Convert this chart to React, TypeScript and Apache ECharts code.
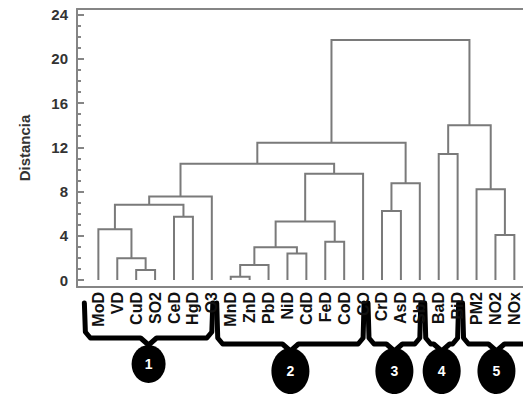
import React, { useEffect, useRef } from "react";
import * as echarts from "echarts";

// Leaves of the dendrogram (left to right)
const leafLabels = [
  "MoD", "VD", "CuD", "SO2", "CeD", "HgD", "O3",
  "MnD", "ZnD", "PbD", "NiD", "CdD", "FeD", "CoD", "CO",
  "CrD", "AsD", "SbD",
  "BaD", "BiD",
  "PM2", "NO2", "NOx",
];

// Linkage: node ids 0..22 are leaves, each merge k creates node 23 + k
const mergeLeft = [7, 2, 23, 1, 10, 25, 12, 21, 0, 28, 4, 15, 31, 35, 20, 34, 32, 36, 18, 40, 41, 42];
const mergeRight = [8, 3, 9, 24, 11, 27, 13, 22, 26, 29, 5, 16, 33, 6, 30, 17, 14, 39, 19, 38, 37, 43];
const mergeHeight = [0.3, 0.9, 1.36, 1.96, 2.4, 2.96, 3.47, 4.07, 4.6, 5.28, 5.73, 6.24, 6.8, 7.54, 8.2, 8.75, 9.6, 10.5, 11.4, 12.4, 14.0, 21.7];

const yMajorTicks = [0, 4, 8, 12, 16, 20, 24];
const yMinorTicks = [0, 1, 2, 3, 4, 5, 6, 7, 8, 9, 10, 11, 12, 13, 14, 15, 16, 17, 18, 19, 20, 21, 22, 23, 24];

// Cluster groups marked under the labels
const groupNames = ["1", "2", "3", "4", "5"];
const groupFirstLeaf = [0, 7, 15, 18, 20];
const groupLastLeaf = [6, 14, 17, 19, 22];

function buildLinks() {
  const nodeX: number[] = leafLabels.map((_, i) => i);
  const nodeH: number[] = leafLabels.map(() => 0);
  const links: any[] = [];
  for (let k = 0; k < mergeHeight.length; k++) {
    const l = mergeLeft[k];
    const r = mergeRight[k];
    const h = mergeHeight[k];
    links.push({
      coords: [
        [nodeX[l], nodeH[l]],
        [nodeX[l], h],
        [nodeX[r], h],
        [nodeX[r], nodeH[r]],
      ],
    });
    nodeX.push((nodeX[l] + nodeX[r]) / 2);
    nodeH.push(h);
  }
  return links;
}

const AXIS_COLOR = "#858585";
const LINK_COLOR = "#7a7a7a";
const FONT = "Liberation Sans, Arial, sans-serif";

export default function App() {
  const ref = useRef<HTMLDivElement>(null);

  useEffect(() => {
    if (!ref.current) return;
    const chart = echarts.init(ref.current, undefined, { renderer: "svg" });
    const leafIdx = leafLabels.map((_, i) => i);

    chart.setOption({
      animation: false,
      backgroundColor: "#ffffff",
      grid: {
        left: 77,
        right: -1,
        top: 9,
        bottom: 112,
        containLabel: false,
        outerBoundsMode: "none",
      },
      xAxis: [
        {
          type: "value",
          min: -1.13,
          max: 22.51,
          position: "bottom",
          splitLine: { show: false },
          axisTick: { show: false },
          axisLine: { show: true, onZero: false, lineStyle: { color: AXIS_COLOR, width: 2 } },
          axisLabel: {
            customValues: leafIdx,
            formatter: (v: number) => leafLabels[Math.round(v)] ?? "",
            rotate: 90,
            margin: 5,
            padding: [0, 0, 8, 0],
            fontSize: 16,
            fontWeight: "bold",
            fontFamily: FONT,
            color: "#111",
          },
        },
        {
          type: "value",
          min: -1.13,
          max: 22.51,
          position: "top",
          splitLine: { show: false },
          axisTick: { show: false },
          axisLabel: { show: false },
          axisLine: { show: true, onZero: false, lineStyle: { color: AXIS_COLOR, width: 2 } },
        },
      ],
      yAxis: [
        {
          type: "value",
          min: -0.63,
          max: 24.5,
          position: "left",
          splitLine: { show: false },
          axisLine: { show: true, onZero: false, lineStyle: { color: AXIS_COLOR, width: 2 } },
          axisTick: {
            show: true,
            customValues: yMajorTicks,
            inside: true,
            length: 7,
            lineStyle: { color: AXIS_COLOR, width: 2 },
          },
          axisLabel: {
            customValues: yMajorTicks,
            margin: 9,
            fontSize: 15,
            fontWeight: "bold",
            fontFamily: FONT,
            color: "#333",
          },
          name: "Distancia",
          nameLocation: "middle",
          nameGap: 45,
          nameTextStyle: {
            fontSize: 15,
            fontWeight: "bold",
            fontFamily: FONT,
            color: "#333",
          },
        },
        {
          type: "value",
          min: -0.63,
          max: 24.5,
          position: "left",
          splitLine: { show: false },
          axisLine: { show: false, onZero: false },
          axisLabel: { show: false },
          axisTick: {
            show: true,
            customValues: yMinorTicks,
            inside: true,
            length: 4,
            lineStyle: { color: AXIS_COLOR, width: 2 },
          },
        },
      ],
      series: [
        {
          type: "lines",
          coordinateSystem: "cartesian2d",
          xAxisIndex: 0,
          yAxisIndex: 0,
          polyline: true,
          silent: true,
          lineStyle: { color: LINK_COLOR, width: 2, opacity: 1 },
          data: buildLinks(),
        },
      ],
    });

    // Braces and numbered markers below the leaf labels
    const px = (v: number) => chart.convertToPixel({ xAxisIndex: 0 }, v) as number;
    const graphics: any[] = [];
    groupNames.forEach((name, g) => {
      const isLast = g === groupNames.length - 1;
      const x1 = px(groupFirstLeaf[g]) - 14;
      const x2 = isLast ? px(groupLastLeaf[g]) + 20 : px(groupLastLeaf[g]) + 1;
      const cx = isLast ? (x1 + x2) / 2 - 2 : (x1 + x2) / 2;
      const top = 303;
      const bottom = g === 0 ? 338 : 344;
      graphics.push({
        type: "polyline",
        shape: {
          points: [
            [x1, top],
            [x1 + 1, bottom - 6],
            [x1 + 6, bottom],
            [cx - 8, bottom],
            [cx, bottom + 7],
            [cx + 8, bottom],
            [x2 - 6, bottom],
            [x2 - 1, bottom - 6],
            [x2, top],
          ],
        },
        style: { stroke: "#000", lineWidth: 5, fill: null, lineJoin: "round", lineCap: "round" },
        silent: true,
      });
      const cy = g === 0 ? 364 : 371;
      const rx = g === 0 ? 17 : 19;
      const ry = g === 0 ? 19 : 23;
      graphics.push({
        type: "ellipse",
        shape: { cx, cy, rx, ry },
        style: { fill: "#000" },
        silent: true,
      });
      graphics.push({
        type: "text",
        x: cx,
        y: cy,
        style: {
          text: name,
          fill: "#fff",
          font: "bold 14px " + FONT,
          align: "center",
          verticalAlign: "middle",
        },
        silent: true,
      });
    });
    chart.setOption({ graphic: graphics });

    return () => chart.dispose();
  }, []);

  return (
    <div
      ref={ref}
      style={{ position: "absolute", left: 0, top: 0, width: 523, height: 399 }}
    />
  );
}
